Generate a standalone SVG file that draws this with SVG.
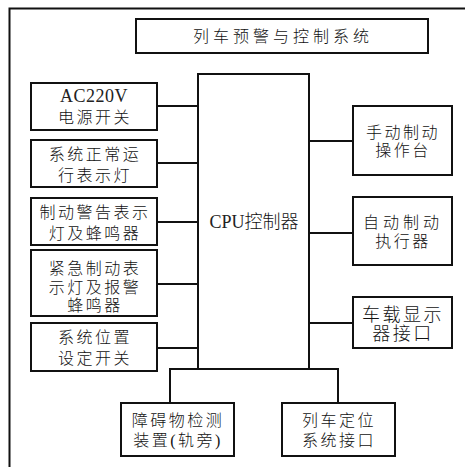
<svg xmlns="http://www.w3.org/2000/svg" width="465" height="467" viewBox="0 0 465 467">
<style>
.box{fill:#fff;stroke:#111;stroke-width:2}
.ln{fill:none;stroke:#111;stroke-width:2}
text{font-family:"Liberation Serif","Noto Sans CJK SC",serif;font-size:16px;fill:#111;text-anchor:middle}
.cj{letter-spacing:2.5px;font-weight:300}
.lat{font-size:18px;font-weight:normal;fill:#222}
</style>
<rect width="465" height="467" fill="#fff"/>
<g id="frame"><path class="ln" d="M9.5,467 V8.5 H465"/></g>
<g id="title"><rect class="box" x="136" y="19" width="292" height="34"/><text class="cj" x="283" y="42" style="letter-spacing:4px">列车预警与控制系统</text></g>
<g id="connectors">
<path class="ln" d="M157,106H198 M157,163H198 M157,222H198 M157,284H198 M157,348H198"/>
<path class="ln" d="M309,141H353 M309,233H353 M309,323H353"/>
<path class="ln" d="M170,403V369H338V403"/>
</g>
<g id="cpu"><rect class="box" x="198" y="74" width="111" height="295"/><text class="lat" x="254" y="228">CPU<tspan style="font-weight:300;fill:#111">控制器</tspan></text></g>
<g id="n1"><rect class="box" x="31" y="83" width="126" height="47"/><text class="lat" x="94" y="102" style="letter-spacing:0.5px">AC220V</text><text class="cj" x="95" y="123">电源开关</text></g>
<g id="n2"><rect class="box" x="31" y="140" width="126" height="47"/><text class="cj" x="95" y="160">系统正常运</text><text class="cj" x="95" y="181">行表示灯</text></g>
<g id="n3"><rect class="box" x="31" y="198" width="126" height="47"/><text class="cj" x="95" y="218">制动警告表示</text><text class="cj" x="95" y="239">灯及蜂鸣器</text></g>
<g id="n4"><rect class="box" x="31" y="250" width="126" height="66"/><text class="cj" x="95" y="274">紧急制动表</text><text class="cj" x="95" y="293">示灯及报警</text><text class="cj" x="95" y="311">蜂鸣器</text></g>
<g id="n5"><rect class="box" x="31" y="323" width="126" height="48"/><text class="cj" x="95" y="343">系统位置</text><text class="cj" x="95" y="364">设定开关</text></g>
<g id="r1"><rect class="box" x="353" y="106" width="99" height="69"/><text class="cj" x="403" y="138">手动制动</text><text class="cj" x="403" y="156">操作台</text></g>
<g id="r2"><rect class="box" x="353" y="197" width="99" height="68"/><text class="cj" x="403" y="228" style="letter-spacing:4px">自动制动</text><text class="cj" x="403" y="247">执行器</text></g>
<g id="r3"><rect class="box" x="353" y="297" width="99" height="51"/><text class="cj" x="403" y="321" style="font-size:18px">车载显示</text><text class="cj" x="403" y="340" style="font-size:18px">器接口</text></g>
<g id="b1"><rect class="box" x="121" y="403" width="113" height="53"/><text class="cj" x="178" y="426">障碍物检测</text><text class="cj" x="178" y="446">装置(轨旁)</text></g>
<g id="b2"><rect class="box" x="282" y="403" width="113" height="53"/><text class="cj" x="339" y="426">列车定位</text><text class="cj" x="339" y="446">系统接口</text></g>
</svg>
